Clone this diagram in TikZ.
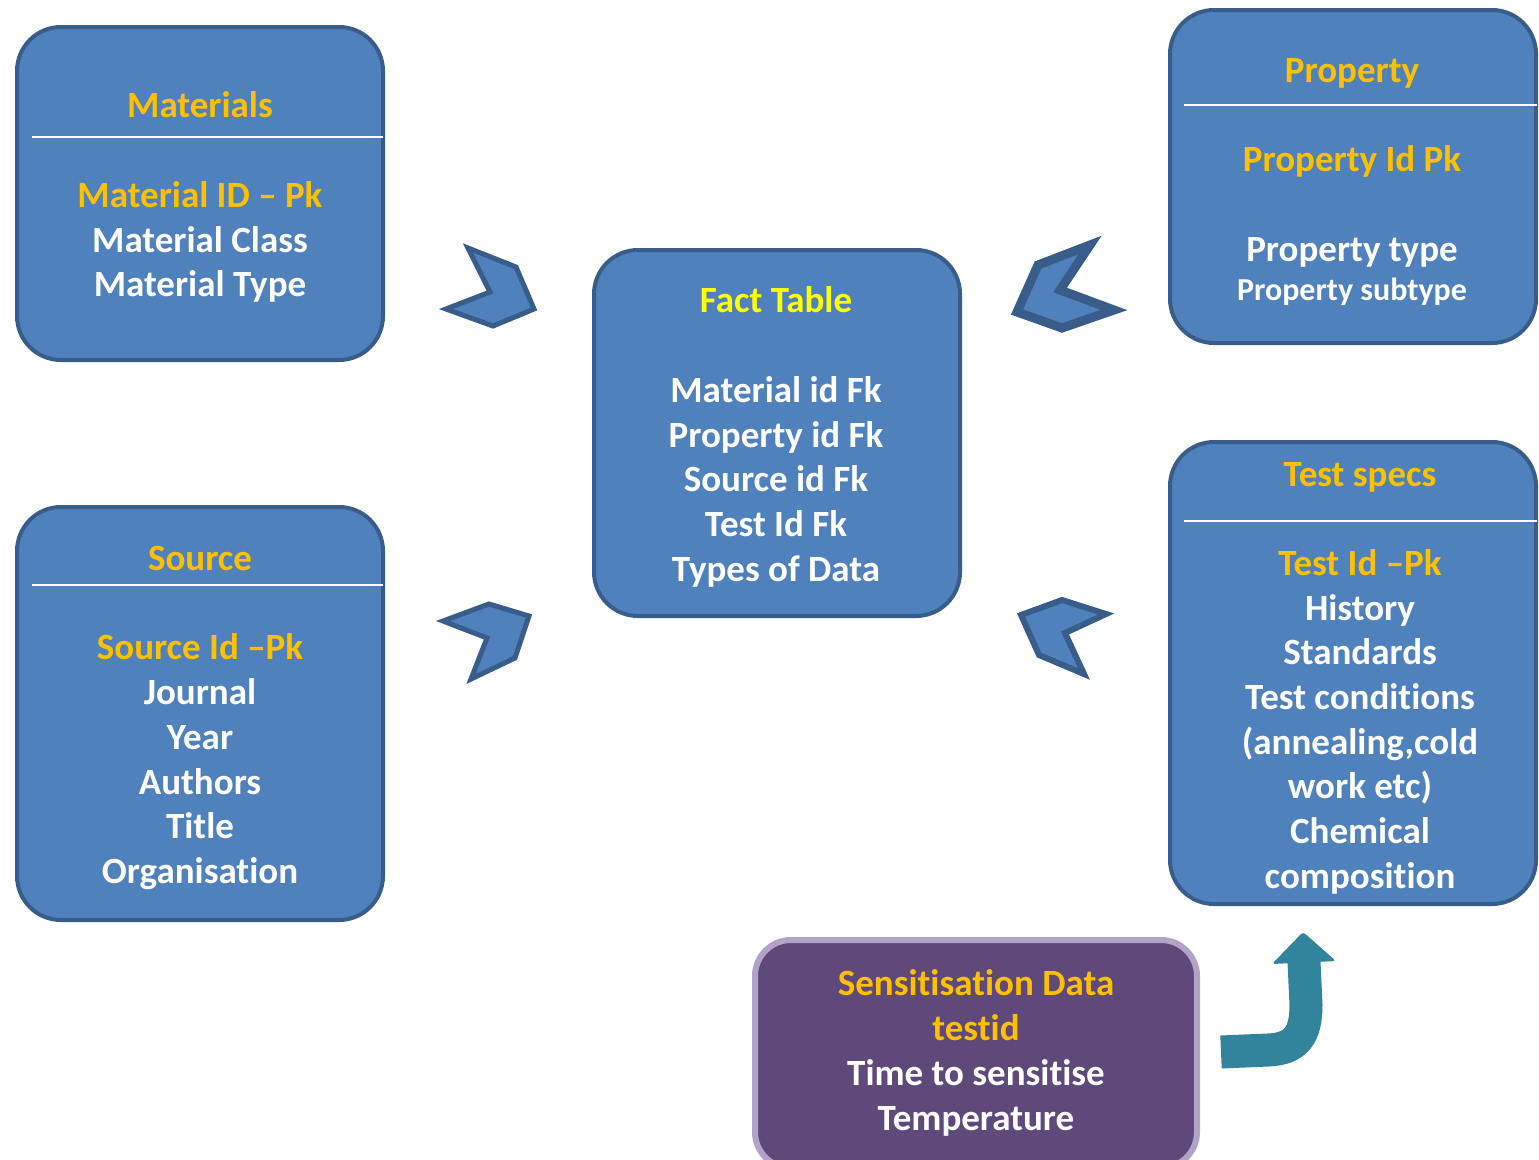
\documentclass[tikz,border=0pt]{standalone}
\usepackage{fontspec}
\setmainfont{Carlito}[Ligatures={TeX,NoCommon}]
\definecolor{boxfill}{HTML}{4F81BD}
\definecolor{boxborder}{HTML}{385D8A}
\definecolor{gold}{HTML}{FFC000}
\definecolor{facttitle}{HTML}{FFFF00}
\definecolor{purplefill}{HTML}{5F497A}
\definecolor{purpleborder}{HTML}{B3A2C7}
\definecolor{tealarrow}{HTML}{31849B}
\begin{document}
\begin{tikzpicture}[x=1pt,y=-1pt,
  box/.style={draw=boxborder, fill=boxfill, line width=4pt, rounded corners=44pt, inner sep=0pt, outer sep=0pt},
  sbox/.style={draw=purpleborder, fill=purplefill, line width=6pt, rounded corners=36pt, inner sep=0pt, outer sep=0pt},
  txt/.style={anchor=base, inner sep=0pt, text=white, font=\fontsize{37}{45}\selectfont\bfseries},
  gtxt/.style={txt, text=gold},
  stxt/.style={txt, font=\fontsize{32}{38}\selectfont\bfseries},
  sep/.style={draw=white, line width=2pt},
  chev/.style={draw=boxborder, fill=boxfill, line width=5pt, line join=miter}
]
\useasboundingbox (0,0) rectangle (1539,1159);
\clip (0,0) rectangle (1539,1159);
\fill[white] (0,0) rectangle (1539,1159);

% boxes
\node[box, minimum width=366pt, minimum height=333pt] (mat) at (200,193.5) {};
\node[box, minimum width=366pt, minimum height=413pt] (src) at (200,713.5) {};
\node[box, minimum width=366pt, minimum height=366pt] (fact) at (777,433) {};
\node[box, minimum width=366pt, minimum height=333pt] (prop) at (1353,176.5) {};
\node[box, minimum width=366pt, minimum height=462pt] (test) at (1353,673) {};
\node[sbox, minimum width=442pt, minimum height=228pt] (sens) at (976,1054) {};

% separators
\draw[sep] (32,137) -- (383,137);
\draw[sep] (32,585) -- (383,585);
\draw[sep] (1184,105) -- (1537,105);
\draw[sep] (1184,521) -- (1537,521);

% Materials
\node[gtxt] (matT) at (200,117) {Materials};
\node[gtxt] (mat1) at (200,207) {Material ID – Pk};
\node[txt]  (mat2) at (200,252) {Material Class};
\node[txt]  (mat3) at (200,296) {Material Type};

% Source
\node[gtxt] (srcT) at (200,570) {Source};
\node[gtxt] (src1) at (200,659) {Source Id –Pk};
\node[txt]  (src2) at (200,704) {Journal};
\node[txt]  (src3) at (200,749) {Year};
\node[txt]  (src4) at (200,794) {Authors};
\node[txt]  (src5) at (200,838) {Title};
\node[txt]  (src6) at (200,883) {Organisation};

% Fact table
\node[txt, text=facttitle] (factT) at (776,312) {Fact Table};
\node[txt] (fact1) at (776,402) {Material id Fk};
\node[txt] (fact2) at (776,447) {Property id Fk};
\node[txt] (fact3) at (776,491) {Source id Fk};
\node[txt] (fact4) at (776,536) {Test Id Fk};
\node[txt] (fact5) at (776,581) {Types of Data};

% Property
\node[gtxt] (propT) at (1352,82) {Property};
\node[gtxt] (prop1) at (1352,171) {Property Id Pk};
\node[txt]  (prop2) at (1352,261) {Property type};
\node[stxt] (prop3) at (1352,300) {Property subtype};

% Test specs
\node[gtxt] (testT) at (1360,486) {Test specs};
\node[gtxt] (test1) at (1360,575) {Test Id –Pk};
\node[txt]  (test2) at (1360,620) {History};
\node[txt]  (test3) at (1360,664) {Standards};
\node[txt]  (test4) at (1360,709) {Test conditions};
\node[txt]  (test5) at (1360,754) {(annealing,cold};
\node[txt]  (test6) at (1360,798) {work etc)};
\node[txt]  (test7) at (1360,843) {Chemical};
\node[txt]  (test8) at (1360,888) {composition};

% Sensitisation
\node[gtxt] (sens1) at (976,995) {Sensitisation Data};
\node[gtxt] (sens2) at (976,1040) {testid};
\node[txt]  (sens3) at (976,1085) {Time to sensitise};
\node[txt]  (sens4) at (976,1130) {Temperature};

% chevrons
\draw[chev] (468,248) -- (516,267) -- (534,309) -- (493,326) -- (446,309) -- (490,292) -- cycle;
\draw[chev, line width=9pt] (1090,245) -- (1038,265) -- (1017,312) -- (1062,328) -- (1114,310) -- (1060,290) -- cycle;
\draw[chev] (443,621) -- (489,604) -- (529,616) -- (515,658) -- (471,679) -- (487,638) -- cycle;
\draw[chev, line width=6pt] (1106,614) -- (1062,600) -- (1021,615) -- (1039,655) -- (1084,674) -- (1065,633) -- cycle;

% bent arrow
\draw[tealarrow, line width=33pt] (1221,1052) -- (1268,1050) .. controls (1296,1049) and (1306,1035) .. (1306,1005) -- (1304,962);
\fill[tealarrow, rounded corners=3pt] (1272,964) -- (1303,932) -- (1336,961) -- cycle;
\end{tikzpicture}
\end{document}
